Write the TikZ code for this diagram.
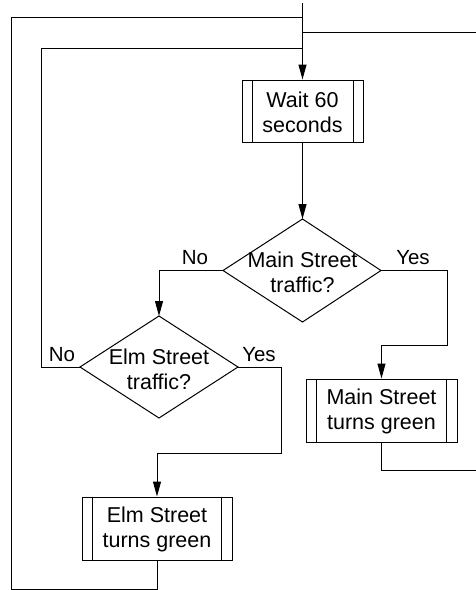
\documentclass[tikz,border=0pt]{standalone}
\usepackage{fontspec}
\setmainfont{Liberation Sans}
\usetikzlibrary{arrows.meta}
\begin{document}
\begin{tikzpicture}[x=1pt,y=-1pt,line width=1pt,
  arr/.style={-{Triangle[length=15pt,width=8pt]}},
  txt/.style={font=\fontsize{21.5}{25}\selectfont,align=center,inner sep=0pt},
  lbl/.style={font=\fontsize{20.5}{22}\selectfont,inner sep=0pt},
  boxframe/.style={draw,line width=1pt,minimum height=62pt,inner sep=0pt},
]
\useasboundingbox (0,0) rectangle (476,590);

% process boxes with double side bars
\node[boxframe,minimum width=121pt] (wait) at (302.5,111) {};
\node[txt] (waitT) at (302.5,112) {Wait 60\\seconds};
\draw (wait.north west) ++(10.5,0) -- ++(0,62);
\draw (wait.north east) ++(-10.5,0) -- ++(0,62);

\node[boxframe,minimum width=151pt,minimum height=63pt] (mainbox) at (381.5,410.5) {};
\node[txt] (mainT) at (381.5,411) {Main Street\\turns green};
\draw (mainbox.north west) ++(11,0) -- ++(0,63);
\draw (mainbox.north east) ++(-11,0) -- ++(0,63);

\node[boxframe,minimum width=150pt,minimum height=63pt] (elmbox) at (157,528.5) {};
\node[txt] (elmT) at (157,529) {Elm Street\\turns green};
\draw (elmbox.north west) ++(11,0) -- ++(0,63);
\draw (elmbox.north east) ++(-11,0) -- ++(0,63);

% decision diamonds
\coordinate (mt) at (302.5,219);
\coordinate (ml) at (223,270.5);
\coordinate (mr) at (381,270.5);
\coordinate (mb) at (302.5,322);
\draw (mt) -- (mr) -- (mb) -- (ml) -- cycle;
\node[txt] (mainQ) at (302.5,272) {Main Street\\traffic?};

\coordinate (et) at (159,316);
\coordinate (el) at (80,367);
\coordinate (er) at (238,367);
\coordinate (eb) at (159,418);
\draw (et) -- (er) -- (eb) -- (el) -- cycle;
\node[txt] (elmQ) at (159,369) {Elm Street\\traffic?};

% branch labels
\node[lbl] (noA) at (195,258) {No};
\node[lbl] (yesA) at (413,258) {Yes};
\node[lbl] (noB) at (62,355) {No};
\node[lbl] (yesB) at (259,355) {Yes};

% connectors
\coordinate (entry) at (302.5,3);
\coordinate (exitR) at (476,32.5);
\coordinate (exitB) at (476,470);
\draw[arr] (entry) -- (wait.north);
\draw[arr] (wait.south) -- (mt);
\draw[arr] (ml) -| (et);
\draw[arr] (mr) -- (447,270.5) -- (447,345.5) -| (mainbox.north);
\draw[arr] (er) -- (281,367) -- (281,453) -| (elmbox.north);
\draw (mainbox.south) |- (exitB);
\draw (302.5,32.5) -- (exitR);
\draw (el) -- (41,367) -- (41,48) -- (302.5,48);
\draw (elmbox.south) -- (157,589) -- (11,589) -- (11,17) -- (302.5,17);
\end{tikzpicture}
\end{document}
